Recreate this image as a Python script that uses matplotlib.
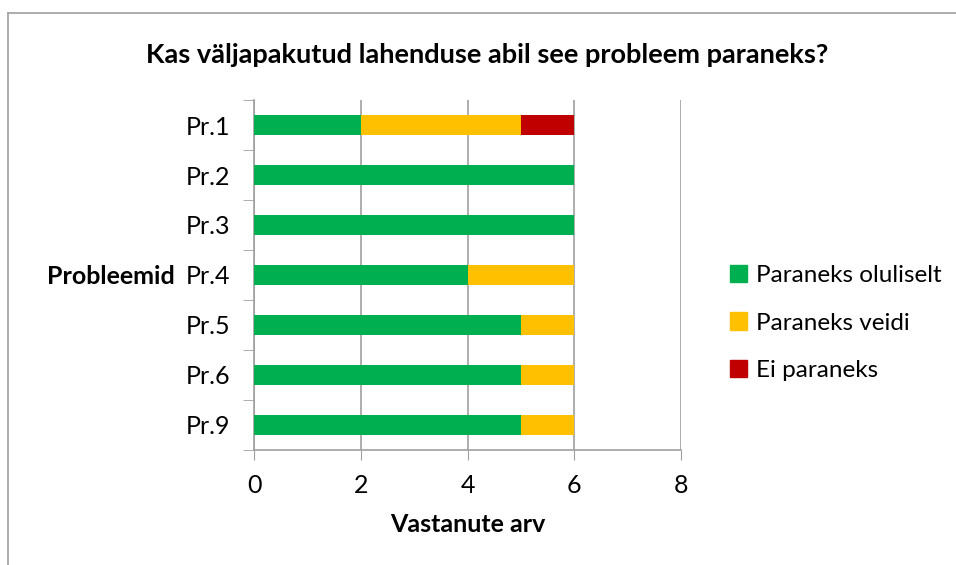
import numpy as np
import matplotlib.pyplot as plt
from matplotlib.lines import Line2D

plt.rcParams['font.family'] = ['Lato', 'DejaVu Sans']

categories = ['Pr.1', 'Pr.2', 'Pr.3', 'Pr.4', 'Pr.5', 'Pr.6', 'Pr.9']
oluliselt = [2, 6, 6, 4, 5, 5, 5]
veidi = [3, 0, 0, 2, 1, 1, 1]
ei = [1, 0, 0, 0, 0, 0, 0]
series_names = ['Paraneks oluliselt', 'Paraneks veidi', 'Ei paraneks']
colors = ['#00b050', '#ffc000', '#c00000']

fig = plt.figure(figsize=(9.56, 5.65), dpi=100)
ax = fig.add_axes([254 / 956, 1 - 450 / 565, 427 / 956, 350 / 565])

# outer chart frame (only left and top visible in the reference)
fig.add_artist(Line2D([8 / 956, 8 / 956], [0, 1 - 13 / 565], color='#a0a0a0', lw=1.2))
fig.add_artist(Line2D([8 / 956, 1], [1 - 13 / 565, 1 - 13 / 565], color='#a0a0a0', lw=1.2))

y = np.arange(len(categories))
h = 0.4
left = np.zeros(len(categories))
for vals, name, c in zip([oluliselt, veidi, ei], series_names, colors):
    ax.barh(y, vals, left=left, height=h, color=c, label=name, zorder=3)
    left += np.array(vals)

ax.set_xlim(0, 8)
ax.set_ylim(len(categories) - 0.5, -0.5)
ax.set_xticks([0, 2, 4, 6, 8])
ax.tick_params(axis='x', labelsize=18, length=7, color='#a0a0a0', pad=10)
ax.set_yticks(y)
ax.set_yticklabels(categories)
ax.set_yticks(np.arange(-0.5, len(categories)), minor=True)
ax.tick_params(axis='y', which='major', length=0, labelsize=18, pad=17)
ax.tick_params(axis='y', which='minor', length=8, color='#a0a0a0')
ax.grid(axis='x', color='#a0a0a0', lw=1.2, zorder=0)
for s in ['top', 'right']:
    ax.spines[s].set_visible(False)
for s in ['left', 'bottom']:
    ax.spines[s].set_color('#a0a0a0')
    ax.spines[s].set_linewidth(1.2)

ax.set_xlabel('Vastanute arv', fontsize=18, fontweight='bold', labelpad=12)
fig.text(47 / 956, 1 - 277 / 565, 'Probleemid', fontsize=18, fontweight='bold',
         ha='left', va='center')
fig.text(487 / 956, 1 - 55 / 565, 'Kas väljapakutud lahenduse abil see probleem paraneks?',
         fontsize=19.5, fontweight='bold', ha='center', va='center')

handles = [plt.Rectangle((0, 0), 1, 1, color=c) for c in colors]
fig.legend(handles, series_names, loc='center left', bbox_to_anchor=(730 / 956, 1 - 323 / 565),
           frameon=False, fontsize=17.5, handlelength=0.7, handleheight=0.7,
           handletextpad=0.35, labelspacing=1.07, borderpad=0, borderaxespad=0)

fig.savefig('out.png', dpi=100)
